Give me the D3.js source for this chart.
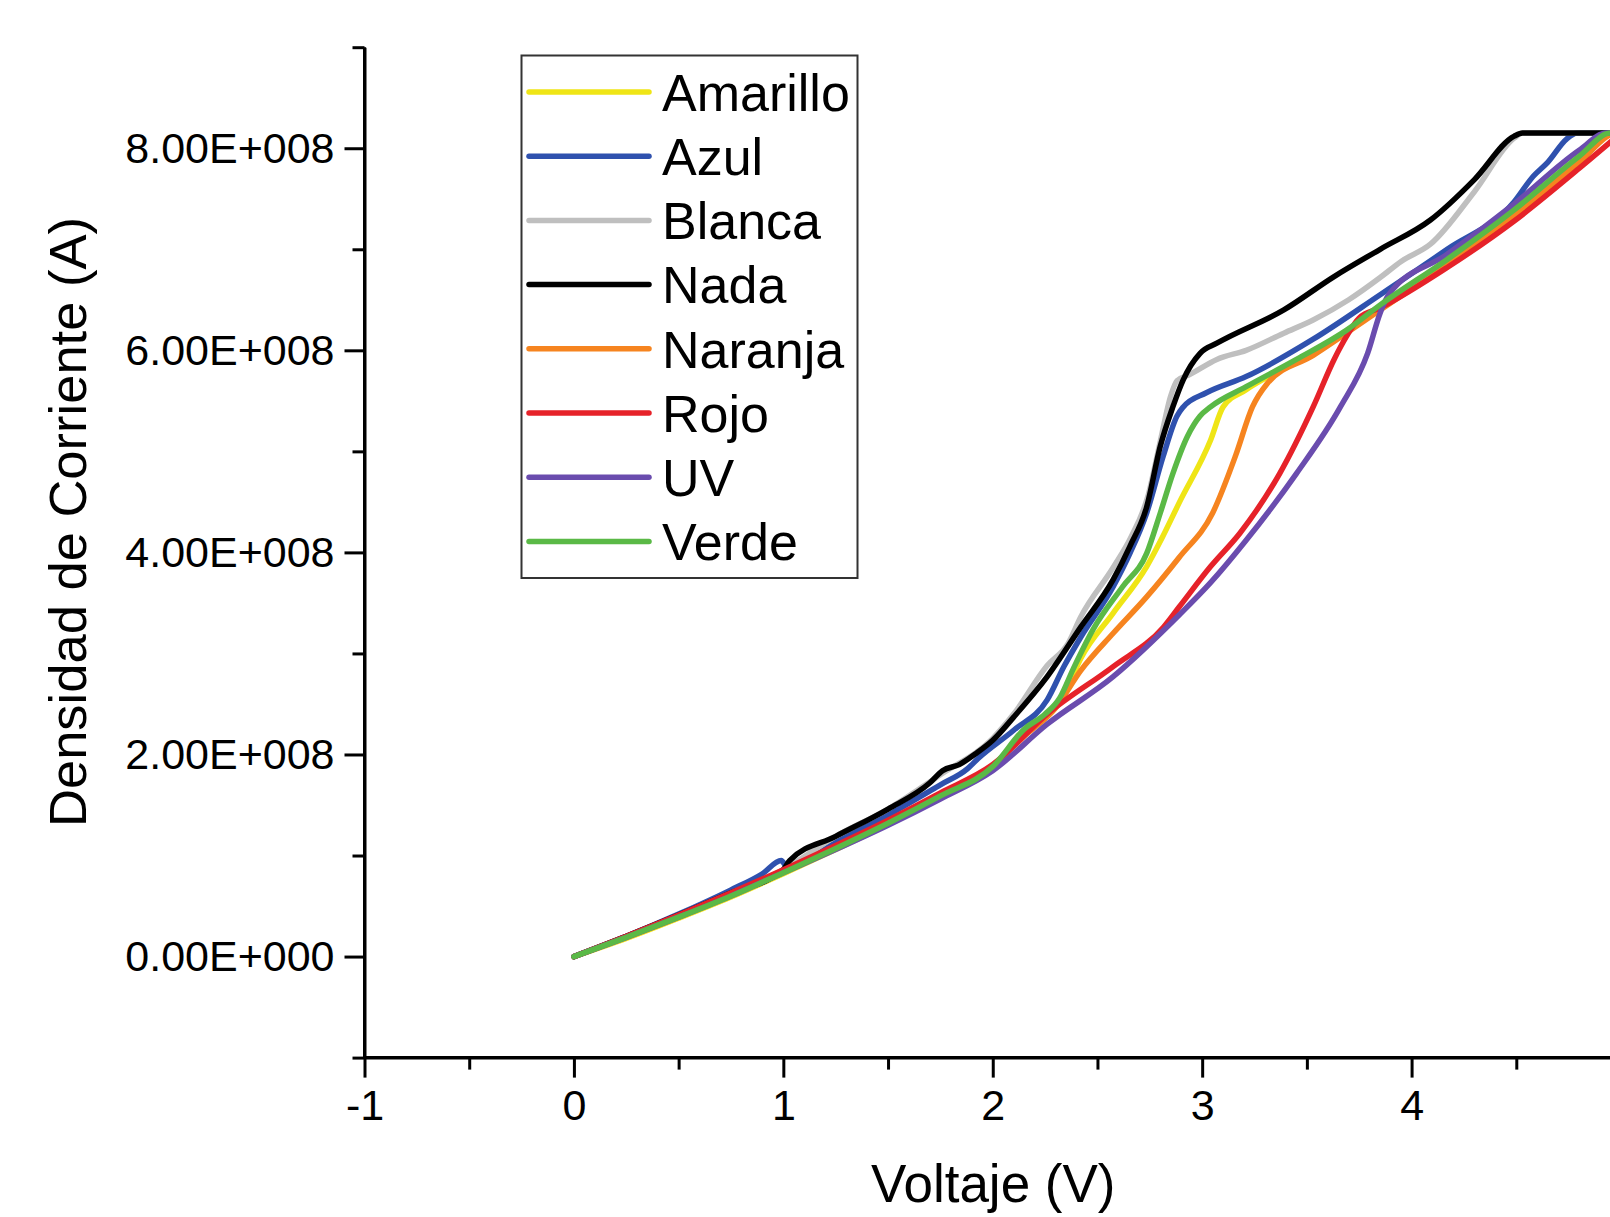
<!DOCTYPE html>
<html>
<head>
<meta charset="utf-8">
<script src="https://cdn.jsdelivr.net/npm/d3@7"></script>
<style>
  html, body { margin: 0; padding: 0; background: #fff; }
  svg { display: block; }
  text { font-family: "Liberation Sans", Arial, sans-serif; fill: #000; }
</style>
</head>
<body>
<svg id="chart" width="1610" height="1217"></svg>
<script>
// ---------------- data (current density in units of 1e8 A) ----------------
const seriesNames = ["Amarillo", "Azul", "Blanca", "Nada", "Naranja", "Rojo", "UV", "Verde"];
const seriesColors = ["#efe516", "#2f51ae", "#bfbfbf", "#000000", "#f6841f", "#e62229", "#6a4cae", "#5ab946"];

const amarilloV = [0,0.25,0.5,0.75,1.0,1.25,1.5,1.75,2.0,2.15,2.3,2.36,2.42,2.575,2.735,2.81,2.89,3.04,3.10,3.21,3.53,3.85,4.17,4.49,4.80,4.97,5.0];
const amarilloJ = [0,0.18,0.38,0.59,0.82,1.06,1.31,1.58,1.87,2.24,2.48,2.68,2.95,3.40,3.86,4.15,4.49,5.11,5.44,5.61,5.97,6.41,6.86,7.35,7.88,8.15,8.15];

const azulV = [0,0.25,0.5,0.75,0.9,0.99,1.02,1.25,1.5,1.75,1.88,1.93,2.1,2.26,2.34,2.42,2.575,2.655,2.735,2.815,2.88,2.91,3.02,3.21,3.53,3.85,4.17,4.49,4.58,4.65,4.74,4.79,5.0];
const azulJ = [0,0.20,0.42,0.66,0.82,0.95,0.88,1.13,1.40,1.70,1.86,1.96,2.24,2.54,2.87,3.16,3.66,3.99,4.39,4.96,5.35,5.44,5.58,5.74,6.11,6.55,7.0,7.47,7.72,7.86,8.09,8.15,8.15];

const blancaV = [0,0.25,0.5,0.75,1.0,1.25,1.5,1.75,2.0,2.1,2.26,2.36,2.42,2.575,2.66,2.74,2.80,2.85,2.88,2.94,3.07,3.21,3.39,3.53,3.70,3.85,3.95,4.09,4.30,4.49,4.53,5.0];
const blancaJ = [0,0.19,0.40,0.62,0.86,1.19,1.46,1.80,2.16,2.40,2.88,3.10,3.36,3.85,4.15,4.55,5.10,5.55,5.70,5.76,5.91,6.00,6.17,6.30,6.50,6.72,6.88,7.05,7.57,8.10,8.15,8.15];

const nadaV = [0,0.25,0.5,0.75,1.0,1.03,1.25,1.5,1.7,1.76,1.84,1.92,2.0,2.1,2.26,2.42,2.575,2.655,2.735,2.80,2.86,2.91,2.99,3.07,3.39,3.63,3.85,4.09,4.30,4.49,4.53,5.0];
const nadaJ = [0,0.20,0.41,0.63,0.86,0.95,1.19,1.46,1.72,1.84,1.90,2.01,2.14,2.37,2.77,3.26,3.73,4.06,4.45,5.05,5.44,5.71,5.97,6.07,6.40,6.73,7.00,7.29,7.69,8.12,8.15,8.15];

const naranjaV = [0,0.25,0.5,0.75,1.0,1.25,1.5,1.75,2.0,2.15,2.3,2.42,2.575,2.735,2.89,3.05,3.16,3.24,3.31,3.53,3.85,4.17,4.49,4.80,4.98,5.0];
const naranjaJ = [0,0.19,0.39,0.61,0.84,1.08,1.33,1.60,1.89,2.18,2.46,2.83,3.20,3.56,3.95,4.39,4.96,5.44,5.67,5.95,6.40,6.85,7.33,7.86,8.15,8.15];

const rojoV = [0,0.25,0.5,0.75,1.0,1.25,1.5,1.75,2.0,2.26,2.575,2.815,2.89,3.04,3.18,3.37,3.53,3.63,3.69,3.75,3.85,4.17,4.49,4.80,5.0];
const rojoJ = [0,0.20,0.41,0.63,0.86,1.10,1.35,1.62,1.90,2.40,2.87,3.26,3.46,3.86,4.19,4.78,5.44,5.91,6.14,6.32,6.42,6.82,7.28,7.80,8.15];

const uvV = [0,0.25,0.5,0.75,1.0,1.25,1.5,1.75,2.0,2.26,2.575,2.89,3.04,3.21,3.45,3.66,3.79,3.85,3.89,4.17,4.49,4.80,4.93,5.0];
const uvJ = [0,0.19,0.39,0.60,0.83,1.06,1.30,1.56,1.84,2.30,2.77,3.38,3.70,4.12,4.78,5.44,5.97,6.37,6.55,6.95,7.45,7.98,8.15,8.15];

const verdeV = [0,0.25,0.5,0.75,1.0,1.25,1.5,1.75,2.0,2.15,2.25,2.32,2.385,2.48,2.62,2.735,2.80,2.86,2.93,2.99,3.04,3.21,3.45,3.69,3.85,4.17,4.49,4.80,4.95,5.0];
const verdeJ = [0,0.19,0.39,0.60,0.83,1.07,1.32,1.59,1.88,2.25,2.40,2.56,2.85,3.24,3.66,3.99,4.39,4.78,5.15,5.35,5.44,5.64,5.91,6.20,6.45,6.90,7.39,7.92,8.15,8.15];

const UNIT = 1e8;
const xTicks = [-1, 0, 1, 2, 3, 4, 5];
const xMinorTicks = [-0.5, 0.5, 1.5, 2.5, 3.5, 4.5];
const yTicks = [0, 2e8, 4e8, 6e8, 8e8];
const yMinorTicks = [-1e8, 1e8, 3e8, 5e8, 7e8, 9e8];
const xTitle = "Voltaje (V)";
const yTitle = "Densidad de Corriente (A)";

const seriesV = [amarilloV, azulV, blancaV, nadaV, naranjaV, rojoV, uvV, verdeV];
const seriesJ = [amarilloJ, azulJ, blancaJ, nadaJ, naranjaJ, rojoJ, uvJ, verdeJ];

// ---------------- layout ----------------
const svg = d3.select("#chart");
const pLeft = 364.5, pTop = 47.2, pRight = 1621, pBottom = 1057.6;

const x = d3.scaleLinear().domain([-1, 5]).range([pLeft, pRight]);
const y = d3.scaleLinear().domain([-1e8, 9e8]).range([pBottom, pTop]);

function fmtE(v) {
  const s = v.toExponential(2); // e.g. 8.00e+8
  const [m, e] = s.split("e");
  const sign = e[0] === "-" ? "-" : "+";
  const ex = String(Math.abs(parseInt(e, 10))).padStart(3, "0");
  return m + "E" + sign + ex;
}

// lines
const line = d3.line()
  .x(d => x(d[0]))
  .y(d => y(d[1] * UNIT))
  .curve(d3.curveMonotoneX);

const gLines = svg.append("g");
seriesNames.forEach((name, i) => {
  const pts = seriesV[i].map((v, k) => [v, seriesJ[i][k]]);
  gLines.append("path")
    .datum(pts)
    .attr("d", line)
    .attr("fill", "none")
    .attr("stroke", seriesColors[i])
    .attr("stroke-width", 5.5)
    .attr("stroke-linejoin", "round")
    .attr("stroke-linecap", "round");
});

// axes
const axisFont = 43;
const xAxis = svg.append("g").attr("transform", `translate(0,${pBottom})`)
  .call(d3.axisBottom(x).tickValues(xTicks).tickFormat(d => String(d))
    .tickSize(20).tickSizeOuter(0).tickPadding(12));
const xAxisMinor = svg.append("g").attr("transform", `translate(0,${pBottom})`)
  .call(d3.axisBottom(x).tickValues(xMinorTicks).tickFormat("")
    .tickSize(12).tickSizeOuter(0));
const yAxis = svg.append("g").attr("transform", `translate(${pLeft},0)`)
  .call(d3.axisLeft(y).tickValues(yTicks).tickFormat(fmtE)
    .tickSize(20).tickSizeOuter(0).tickPadding(10));
const yAxisMinor = svg.append("g").attr("transform", `translate(${pLeft},0)`)
  .call(d3.axisLeft(y).tickValues(yMinorTicks).tickFormat("")
    .tickSize(12).tickSizeOuter(0));

[xAxis, xAxisMinor, yAxis, yAxisMinor].forEach(g => {
  g.selectAll(".domain").attr("stroke", "#000").attr("stroke-width", 3);
  g.selectAll(".tick line").attr("stroke", "#000").attr("stroke-width", 3);
  g.selectAll("text")
    .style("font-family", '"Liberation Sans", Arial, sans-serif')
    .style("font-size", axisFont + "px")
    .attr("fill", "#000");
});
xAxis.select(".domain").attr("d", `M${pLeft - 1.5},0H${pRight + 20}`);
yAxis.select(".domain").attr("d", `M0,${pTop}V${pBottom + 1.5}`);

// axis titles
svg.append("text")
  .attr("x", x(2) + 0.5)
  .attr("y", 1202)
  .attr("text-anchor", "middle")
  .style("font-size", "53px")
  .text(xTitle);

svg.append("text")
  .attr("transform", "translate(86,522) rotate(-90)")
  .attr("text-anchor", "middle")
  .style("font-size", "52.5px")
  .text(yTitle);

// legend
const lg = svg.append("g");
lg.append("rect")
  .attr("x", 521.5).attr("y", 55.5)
  .attr("width", 336).attr("height", 522.5)
  .attr("fill", "#fff")
  .attr("stroke", "#333").attr("stroke-width", 2);
seriesNames.forEach((name, i) => {
  const yy = 92 + i * 64.2;
  lg.append("line")
    .attr("x1", 529).attr("x2", 649)
    .attr("y1", yy).attr("y2", yy)
    .attr("stroke", seriesColors[i])
    .attr("stroke-width", 5.5)
    .attr("stroke-linecap", "round");
  lg.append("text")
    .attr("x", 662).attr("y", yy)
    .attr("dy", "0.36em")
    .style("font-size", "52px")
    .text(name);
});
</script>
</body>
</html>
